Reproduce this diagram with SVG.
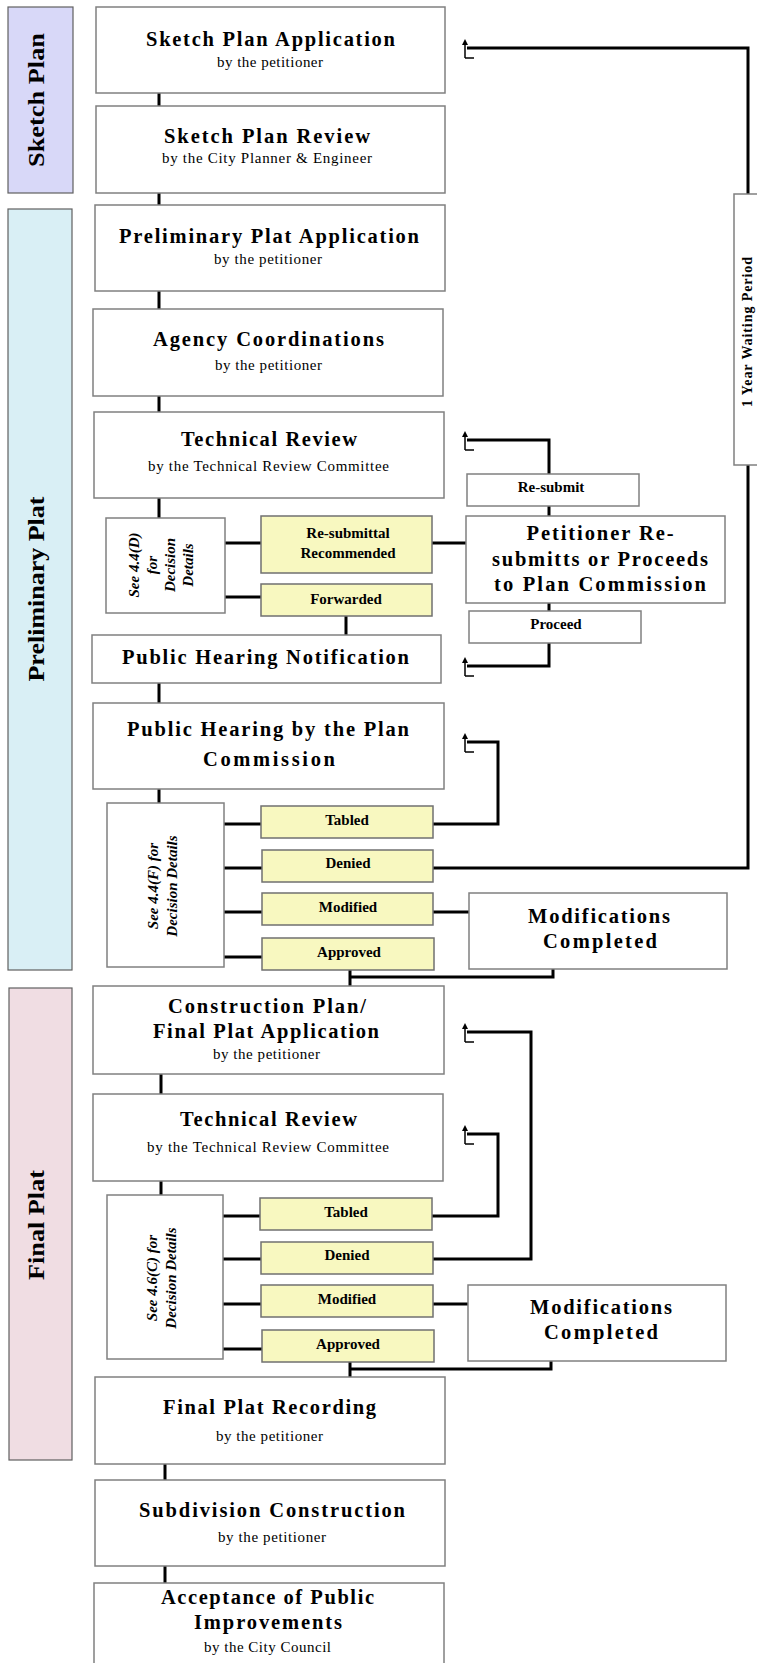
<svg xmlns="http://www.w3.org/2000/svg" width="757" height="1663" viewBox="0 0 757 1663">
<style>
text{font-family:"Liberation Serif","Times New Roman",serif;fill:#000}
.t{font-size:20.5px;font-weight:bold;text-anchor:middle}
.s{font-size:15px;text-anchor:middle}
.l{font-size:15px;font-weight:bold;text-anchor:middle}
.i{font-size:15px;font-weight:bold;font-style:italic;text-anchor:middle}
.ph{font-size:24px;font-weight:bold;text-anchor:middle}
.box{fill:#fff;stroke:#808080;stroke-width:1.5}
.yel{fill:#f8f8c0;stroke:#707070;stroke-width:1.5}
.bar{stroke:#606060;stroke-width:1.2}
.c{fill:none;stroke:#000;stroke-width:3}
.g{fill:none;stroke:#000;stroke-width:1.5}
</style>
<defs>
<g id="glyph">
<path class="g" d="M0,19 V4 M0,19 H9"/>
<polygon points="0,0 -3,6 3,6" fill="#000"/>
</g>
</defs>

<g id="phase-sketch">
<rect class="bar" x="8" y="7" width="65" height="186" fill="#d8d8f8"/>
<text class="ph" transform="translate(44,100) rotate(-90)" textLength="134" lengthAdjust="spacingAndGlyphs">Sketch Plan</text>
</g>
<g id="phase-preliminary">
<rect class="bar" x="8" y="209" width="64" height="761" fill="#d9eff5"/>
<text class="ph" transform="translate(44,589) rotate(-90)" textLength="185" lengthAdjust="spacingAndGlyphs">Preliminary Plat</text>
</g>
<g id="phase-final">
<rect class="bar" x="9" y="988" width="63" height="472" fill="#f0dde3"/>
<text class="ph" transform="translate(44,1225) rotate(-90)" textLength="110" lengthAdjust="spacingAndGlyphs">Final Plat</text>
</g>

<g id="connectors">
<path class="c" d="M159,93 V106 M159,193 V205 M159,291 V309 M159,396 V412 M159,498 V518"/>
<path class="c" d="M225,543 H261 M225,597 H261 M432,543 H466 M549,506 V516 M549,603 V611 M346,616 V635"/>
<path class="c" d="M549,474 V440 H467 M549,643 V666 H467"/>
<path class="c" d="M159,683 V703 M159,789 V803"/>
<path class="c" d="M224,824 H262 M224,868 H262 M224,912 H262 M224,957 H262"/>
<path class="c" d="M433,824 H498 V742 H467"/>
<path class="c" d="M433,868 H748 V465 M748,194 V48 H467"/>
<path class="c" d="M433,912 H469"/>
<path class="c" d="M350,970 V986 M553,969 V977 H350"/>
<path class="c" d="M161,1074 V1094 M161,1181 V1195"/>
<path class="c" d="M223,1216 H261 M223,1259 H261 M223,1304 H261 M223,1349 H262"/>
<path class="c" d="M432,1216 H498 V1134 H467"/>
<path class="c" d="M433,1259 H531 V1032 H467"/>
<path class="c" d="M433,1304 H468"/>
<path class="c" d="M350,1362 V1377 M551,1361 V1369 H350"/>
<path class="c" d="M165,1464 V1480 M165,1566 V1583"/>
<use href="#glyph" x="465" y="39"/>
<use href="#glyph" x="465" y="431"/>
<use href="#glyph" x="465" y="657"/>
<use href="#glyph" x="465" y="733"/>
<use href="#glyph" x="465" y="1023"/>
<use href="#glyph" x="465" y="1125"/>
</g>

<g id="sketch-plan-application">
<rect class="box" x="96" y="7" width="349" height="86"/>
<text class="t" x="270.5" y="46" textLength="249" lengthAdjust="spacing">Sketch Plan Application</text>
<text class="s" x="270" y="67" textLength="106" lengthAdjust="spacing">by the petitioner</text>
</g>
<g id="sketch-plan-review">
<rect class="box" x="96" y="106" width="349" height="87"/>
<text class="t" x="267" y="143" textLength="206" lengthAdjust="spacing">Sketch Plan Review</text>
<text class="s" x="267" y="163" textLength="210" lengthAdjust="spacing">by the City Planner &amp; Engineer</text>
</g>
<g id="preliminary-plat-application">
<rect class="box" x="95" y="205" width="350" height="86"/>
<text class="t" x="269" y="243" textLength="300" lengthAdjust="spacing">Preliminary Plat Application</text>
<text class="s" x="268" y="264" textLength="108" lengthAdjust="spacing">by the petitioner</text>
</g>
<g id="agency-coordinations">
<rect class="box" x="93" y="309" width="350" height="87"/>
<text class="t" x="268.5" y="346" textLength="231" lengthAdjust="spacing">Agency Coordinations</text>
<text class="s" x="268.5" y="370" textLength="107" lengthAdjust="spacing">by the petitioner</text>
</g>
<g id="technical-review-1">
<rect class="box" x="94" y="412" width="350" height="86"/>
<text class="t" x="269" y="446" textLength="176" lengthAdjust="spacing">Technical Review</text>
<text class="s" x="268.5" y="471" textLength="241" lengthAdjust="spacing">by the Technical Review Committee</text>
</g>
<g id="see-44d">
<rect class="box" x="106" y="518" width="119" height="95"/>
<text class="i" transform="translate(139,565) rotate(-90)">See 4.4(D)</text>
<text class="i" transform="translate(157,565) rotate(-90)">for</text>
<text class="i" transform="translate(175,565) rotate(-90)">Decision</text>
<text class="i" transform="translate(193,565) rotate(-90)">Details</text>
</g>
<g id="resubmittal-recommended">
<rect class="yel" x="261" y="516" width="171" height="57"/>
<text class="l" x="348" y="538">Re-submittal</text>
<text class="l" x="348" y="558">Recommended</text>
</g>
<g id="forwarded">
<rect class="yel" x="261" y="584" width="171" height="32"/>
<text class="l" x="346" y="604">Forwarded</text>
</g>
<g id="re-submit">
<rect class="box" x="467" y="474" width="172" height="32"/>
<text class="l" x="551" y="492">Re-submit</text>
</g>
<g id="petitioner-resubmits">
<rect class="box" x="466" y="516" width="259" height="87"/>
<text class="t" x="600" y="540" textLength="147" lengthAdjust="spacing">Petitioner Re-</text>
<text class="t" x="600" y="566" textLength="216" lengthAdjust="spacing">submitts or Proceeds</text>
<text class="t" x="600" y="591" textLength="212" lengthAdjust="spacing">to Plan Commission</text>
</g>
<g id="proceed">
<rect class="box" x="469" y="611" width="172" height="32"/>
<text class="l" x="556" y="629">Proceed</text>
</g>
<g id="public-hearing-notification">
<rect class="box" x="92" y="635" width="349" height="48"/>
<text class="t" x="265.5" y="664" textLength="287" lengthAdjust="spacing">Public Hearing Notification</text>
</g>
<g id="public-hearing-plan-commission">
<rect class="box" x="93" y="703" width="351" height="86"/>
<text class="t" x="268" y="736" textLength="282" lengthAdjust="spacing">Public Hearing by the Plan</text>
<text class="t" x="269" y="766" textLength="132" lengthAdjust="spacing">Commission</text>
</g>
<g id="see-44f">
<rect class="box" x="107" y="803" width="117" height="164"/>
<text class="i" transform="translate(158,886) rotate(-90)">See 4.4(F) for</text>
<text class="i" transform="translate(177,886) rotate(-90)">Decision Details</text>
</g>
<g id="tabled-1">
<rect class="yel" x="261" y="806" width="172" height="32"/>
<text class="l" x="347" y="825">Tabled</text>
</g>
<g id="denied-1">
<rect class="yel" x="262" y="850" width="171" height="32"/>
<text class="l" x="348" y="868">Denied</text>
</g>
<g id="modified-1">
<rect class="yel" x="262" y="893" width="171" height="32"/>
<text class="l" x="348" y="912">Modified</text>
</g>
<g id="approved-1">
<rect class="yel" x="262" y="938" width="172" height="32"/>
<text class="l" x="349" y="957">Approved</text>
</g>
<g id="modifications-completed-1">
<rect class="box" x="469" y="893" width="258" height="76"/>
<text class="t" x="599" y="923" textLength="142" lengthAdjust="spacing">Modifications</text>
<text class="t" x="600" y="948" textLength="114" lengthAdjust="spacing">Completed</text>
</g>
<g id="one-year-waiting">
<rect class="box" x="734" y="194" width="40" height="271"/>
<text class="l" style="font-size:14px" transform="translate(752,332) rotate(-90)" textLength="150" lengthAdjust="spacing">1 Year Waiting Period</text>
</g>
<g id="construction-plan-final-plat-application">
<rect class="box" x="93" y="986" width="351" height="88"/>
<text class="t" x="267" y="1013" textLength="198" lengthAdjust="spacing">Construction Plan/</text>
<text class="t" x="266" y="1038" textLength="226" lengthAdjust="spacing">Final Plat Application</text>
<text class="s" x="266.5" y="1059" textLength="107" lengthAdjust="spacing">by the petitioner</text>
</g>
<g id="technical-review-2">
<rect class="box" x="93" y="1094" width="350" height="87"/>
<text class="t" x="268.5" y="1126" textLength="177" lengthAdjust="spacing">Technical Review</text>
<text class="s" x="268" y="1152" textLength="242" lengthAdjust="spacing">by the Technical Review Committee</text>
</g>
<g id="see-46c">
<rect class="box" x="107" y="1195" width="116" height="164"/>
<text class="i" transform="translate(157,1278) rotate(-90)">See 4.6(C) for</text>
<text class="i" transform="translate(176,1278) rotate(-90)">Decision Details</text>
</g>
<g id="tabled-2">
<rect class="yel" x="260" y="1198" width="172" height="32"/>
<text class="l" x="346" y="1217">Tabled</text>
</g>
<g id="denied-2">
<rect class="yel" x="261" y="1242" width="172" height="32"/>
<text class="l" x="347" y="1260">Denied</text>
</g>
<g id="modified-2">
<rect class="yel" x="261" y="1285" width="172" height="32"/>
<text class="l" x="347" y="1304">Modified</text>
</g>
<g id="approved-2">
<rect class="yel" x="262" y="1330" width="172" height="32"/>
<text class="l" x="348" y="1349">Approved</text>
</g>
<g id="modifications-completed-2">
<rect class="box" x="468" y="1285" width="258" height="76"/>
<text class="t" x="601" y="1314" textLength="142" lengthAdjust="spacing">Modifications</text>
<text class="t" x="601" y="1339" textLength="114" lengthAdjust="spacing">Completed</text>
</g>
<g id="final-plat-recording">
<rect class="box" x="95" y="1377" width="350" height="87"/>
<text class="t" x="269.5" y="1414" textLength="213" lengthAdjust="spacing">Final Plat Recording</text>
<text class="s" x="269.5" y="1441" textLength="107" lengthAdjust="spacing">by the petitioner</text>
</g>
<g id="subdivision-construction">
<rect class="box" x="95" y="1480" width="350" height="86"/>
<text class="t" x="272" y="1517" textLength="266" lengthAdjust="spacing">Subdivision Construction</text>
<text class="s" x="272" y="1542" textLength="108" lengthAdjust="spacing">by the petitioner</text>
</g>
<g id="acceptance-public-improvements">
<rect class="box" x="94" y="1583" width="350" height="90"/>
<text class="t" x="267.5" y="1604" textLength="213" lengthAdjust="spacing">Acceptance of Public</text>
<text class="t" x="268" y="1629" textLength="148" lengthAdjust="spacing">Improvements</text>
<text class="s" x="267.5" y="1652" textLength="127" lengthAdjust="spacing">by the City Council</text>
</g>
</svg>
